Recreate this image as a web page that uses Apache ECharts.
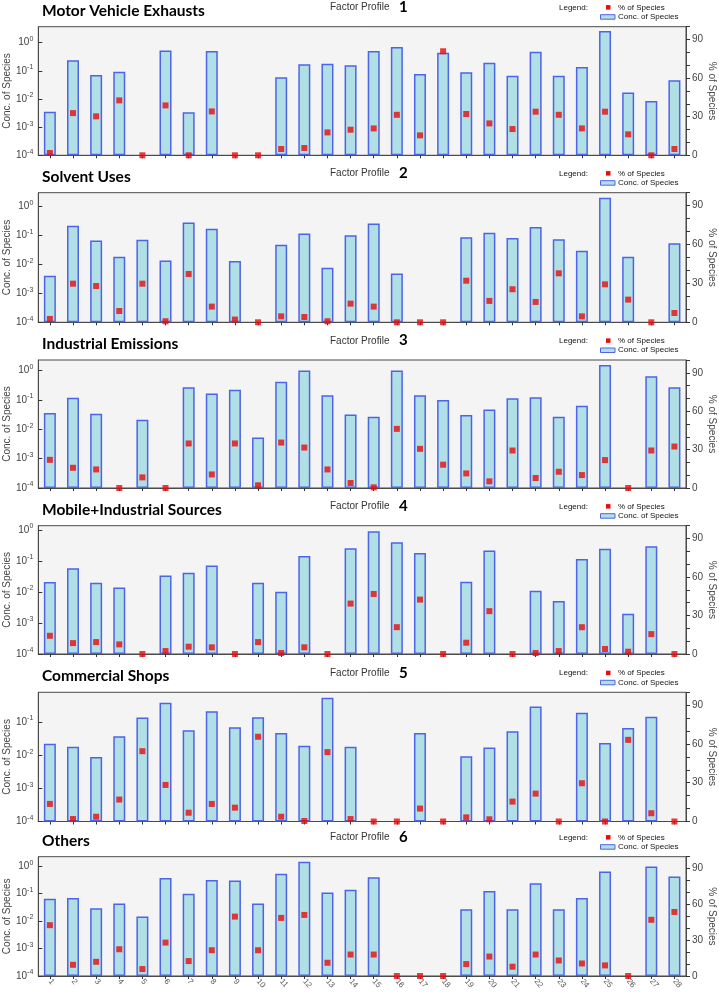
<!DOCTYPE html>
<html><head><meta charset="utf-8">
<script src="https://cdn.jsdelivr.net/npm/echarts@6/dist/echarts.min.js"></script>
<style>html,body{margin:0;padding:0;background:#fff}#c{width:719px;height:993px}</style>
</head><body><div id="c"></div>
<script>
const categories = ['1','2','3','4','5','6','7','8','9','10','11','12','13','14','15','16','17','18','19','20','21','22','23','24','25','26','27','28'];
const titles = ['Motor Vehicle Exhausts','Solvent Uses','Industrial Emissions','Mobile+Industrial Sources','Commercial Shops','Others'];
const profileNumbers = ['1','2','3','4','5','6'];
const concAxisMax = [3.7, 2.9, 2.3, 1.38, 0.78, 2.2];
const pctTickLabels = [0, 30, 60, 90];

const conc1 = [0.0035,0.24,0.071,0.093,null,0.53,0.0034,0.51,null,null,0.059,0.17,0.18,0.158,0.51,0.70,0.077,0.44,0.089,0.195,0.067,0.48,0.067,0.137,2.6,0.017,0.0085,0.046];
const pct1  = [1.8,32.8,30.3,42.7,0,38.8,0,34.1,0,0,4.9,5.7,17.8,19.9,20.9,31.5,15.5,80.9,32.1,24.8,20.4,33.9,31.5,20.9,33.9,16.3,0,4.9];

const conc2 = [0.0040,0.21,0.066,0.018,0.069,0.0135,0.275,0.166,0.0129,null,0.047,0.115,0.0076,0.10,0.25,0.0048,null,null,0.084,0.12,0.080,0.19,0.073,0.029,1.93,0.018,null,0.053];
const pct2  = [2.6,29.8,28.0,8.7,29.8,0.8,37.3,12.1,2.1,0,4.6,4.1,0.8,14.4,12.1,0,0,0,32.1,16.5,25.5,15.7,37.8,4.6,29.3,17.5,0,7.2];

const conc3 = [0.036,0.12,0.034,null,0.021,null,0.27,0.165,0.225,0.0053,0.42,1.0,0.144,0.032,0.027,1.0,0.144,0.10,0.031,0.047,0.114,0.123,0.027,0.064,1.56,null,0.64,0.27];
const pct3  = [22.0,15.8,14.5,0,8.3,0,34.8,10.6,34.8,2.1,35.5,31.6,14.5,3.9,0.5,46.2,30.6,18.2,11.4,5.2,29.3,7.8,12.7,10.1,21.8,0,29.3,32.4];

const conc4 = [0.021,0.058,0.020,0.014,null,0.034,0.042,0.072,null,0.020,0.0102,0.145,null,0.26,0.91,0.40,0.18,null,0.0215,0.22,null,0.011,0.0051,0.116,0.25,0.0020,0.30,null];
const pct4  = [14.2,8.5,9.3,7.5,0,2.3,5.7,5.2,0,9.3,0.8,5.2,0,39.3,46.8,20.9,42.4,0,8.8,33.4,0,0.8,2.3,20.9,3.9,1.8,15.5,0];

const conc5 = [0.022,0.018,0.0088,0.037,0.135,0.38,0.056,0.21,0.069,0.138,0.046,0.019,0.53,0.018,null,null,0.046,null,0.0092,0.017,0.052,0.29,null,0.19,0.023,0.065,0.142,null];
const pct5  = [13.6,1.9,3.7,17.0,54.4,28.3,6.8,13.6,10.7,65.6,3.7,0.4,53.7,1.9,0,0,10.0,0,3.2,1.7,15.4,21.6,0,29.6,0,63.2,6.4,0];

const conc6 = [0.065,0.069,0.029,0.044,0.0148,0.37,0.098,0.31,0.30,0.044,0.53,1.44,0.11,0.138,0.39,null,null,null,0.027,0.123,0.027,0.24,0.027,0.069,0.64,null,0.97,0.42];
const pct6  = [42.6,9.4,11.9,22.4,5.8,28.0,12.5,21.6,49.8,21.6,48.7,51.2,11.1,18.0,18.0,0,0,0,10.0,16.3,7.8,18.0,13.0,10.5,8.9,0,47.1,53.7];

const concSeries = [conc1, conc2, conc3, conc4, conc5, conc6];
const pctSeries = [pct1, pct2, pct3, pct4, pct5, pct6];

// layout
const panelTops = [26.7, 192.7, 360, 525.7, 692.3, 856.7];
const panelBottoms = [155.3, 322.3, 488, 654, 821.5, 976];
const gridLeft = 38.3, gridRight = 686;
const AX = 'Liberation Sans, Arial, sans-serif';
const axisColor = '#4a4a4a';
const textColor = '#444';
const barFill = '#b0e0e6', barStroke = '#4f63e6', markColor = '#e60d0d';

const grids = [], xAxes = [], yAxes = [], series = [], graphics = [];
for (let i = 0; i < 6; i++) {
  const top = panelTops[i], h = panelBottoms[i] - top;
  grids.push({left: gridLeft, top: top, width: gridRight - gridLeft, height: h, show: true,
    containLabel: false, outerBoundsMode: 'none',
    backgroundColor: '#f4f4f4', borderColor: axisColor, borderWidth: 1});
  xAxes.push({type: 'category', gridIndex: i, data: categories,
    axisLine: {show: true, lineStyle: {color: axisColor}},
    axisTick: {show: true, alignWithLabel: true, length: 3, lineStyle: {color: '#333'}},
    axisLabel: {show: i === 5, rotate: -50, fontSize: 8, color: '#555', margin: 4, fontFamily: AX, interval: 0},
    splitLine: {show: false}});
  yAxes.push({type: 'log', logBase: 10, gridIndex: i, min: 1e-4, max: concAxisMax[i], startValue: 1e-4, position: 'left',
    name: 'Conc. of Species', nameLocation: 'middle', nameGap: 26, nameMoveOverlap: false,
    nameTextStyle: {fontSize: 10, color: textColor, fontFamily: AX},
    axisLine: {show: true, lineStyle: {color: axisColor}},
    axisTick: {show: true, inside: true, length: 4, lineStyle: {color: '#333'}},
    splitLine: {show: false}, minorTick: {show: false},
    axisLabel: {showMaxLabel: false, margin: 5, color: textColor,
      formatter: function (v) {
        const e = Math.log10(v), r = Math.round(e);
        if (Math.abs(e - r) > 1e-4) return '';
        return '{b|10}{s|' + r + '}';
      },
      rich: {b: {fontSize: 10, color: textColor, fontFamily: AX, lineHeight: 14},
             s: {fontSize: 7, color: textColor, fontFamily: AX, verticalAlign: 'top', lineHeight: 14, padding: [0, 0, 4, 0]}}}});
  yAxes.push({type: 'value', gridIndex: i, min: 0, max: 100, interval: 10, position: 'right',
    name: '% of Species', nameLocation: 'middle', nameRotate: -90, nameGap: 21, nameMoveOverlap: false,
    nameTextStyle: {fontSize: 10, color: textColor, fontFamily: AX},
    axisLine: {show: true, lineStyle: {color: axisColor}},
    axisTick: {show: true, length: 4, lineStyle: {color: '#333'}},
    splitLine: {show: false},
    axisLabel: {fontSize: 10, color: textColor, fontFamily: AX, margin: 6,
      formatter: v => pctTickLabels.indexOf(v) >= 0 ? String(v) : ''}});
  series.push({type: 'bar', name: 'Conc. of Species', xAxisIndex: i, yAxisIndex: 2 * i, data: concSeries[i],
    barWidth: 12, itemStyle: {color: barFill, borderColor: barStroke, borderWidth: 1.5}, z: 2});
  series.push({type: 'scatter', name: '% of Species', xAxisIndex: i, yAxisIndex: 2 * i + 1, data: pctSeries[i],
    symbol: 'rect', symbolSize: 6, itemStyle: {color: markColor}, z: 5});

  graphics.push({type: 'text', x: 42, y: top - 16, style: {text: titles[i], fontSize: 15.5, fontWeight: 'bold', fontFamily: 'Lato, sans-serif', fill: '#000', verticalAlign: 'middle'}});
  graphics.push({type: 'text', x: 330, y: top - 19, style: {text: 'Factor Profile', fontSize: 10, fontFamily: AX, fill: '#333', verticalAlign: 'middle'}});
  graphics.push({type: 'text', x: 399, y: top - 19.5, style: {text: profileNumbers[i], fontSize: 15, fontWeight: 'bold', fontFamily: 'Lato, sans-serif', fill: '#000', verticalAlign: 'middle'}});
  graphics.push({type: 'text', x: 559, y: top - 19.4, style: {text: 'Legend:', fontSize: 8, fontFamily: AX, fill: '#111', verticalAlign: 'middle'}});
  graphics.push({type: 'rect', shape: {x: 606, y: top - 21.6, width: 4.5, height: 4.5}, style: {fill: markColor}});
  graphics.push({type: 'text', x: 618, y: top - 19.4, style: {text: '% of Species', fontSize: 8, fontFamily: AX, fill: '#111', verticalAlign: 'middle'}});
  graphics.push({type: 'rect', shape: {x: 600.5, y: top - 12, width: 14.5, height: 4.5}, style: {fill: barFill, stroke: barStroke, lineWidth: 1}});
  graphics.push({type: 'text', x: 618, y: top - 9.8, style: {text: 'Conc. of Species', fontSize: 8, fontFamily: AX, fill: '#111', verticalAlign: 'middle'}});
}

const chart = echarts.init(document.getElementById('c'), null, {renderer: 'canvas', width: 719, height: 993});
chart.setOption({
  animation: false,
  backgroundColor: '#fff',
  grid: grids, xAxis: xAxes, yAxis: yAxes, series: series, graphic: graphics
});
</script></body></html>
